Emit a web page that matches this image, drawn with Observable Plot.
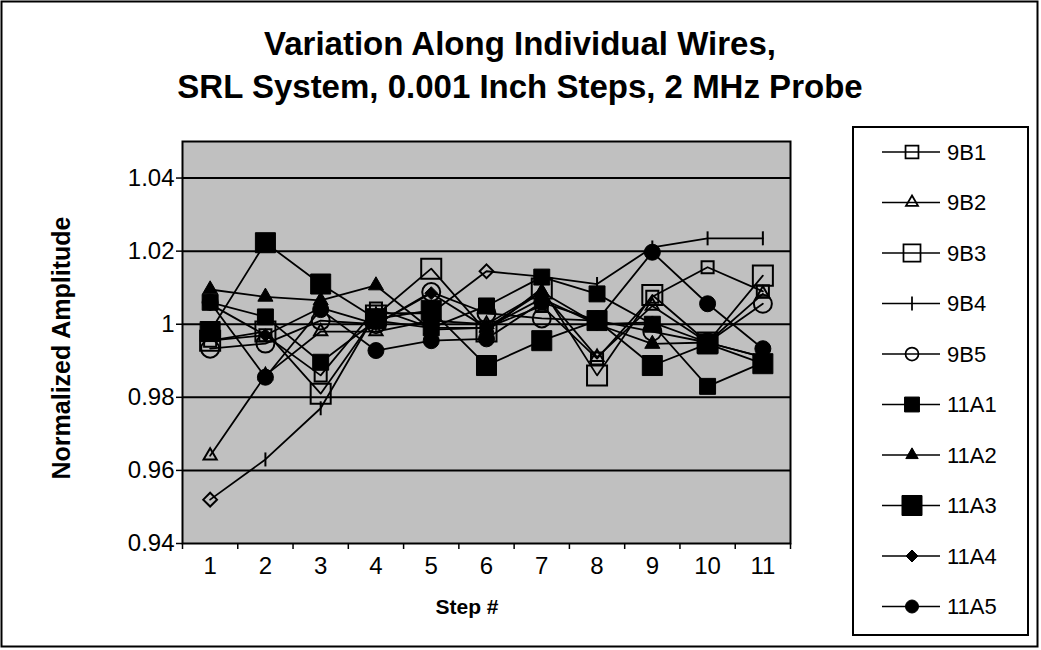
<!DOCTYPE html>
<html><head><meta charset="utf-8">
<script src="https://cdn.jsdelivr.net/npm/d3@7"></script>
<script src="https://cdn.jsdelivr.net/npm/@observablehq/plot@0.6"></script>
<style>body{margin:0;background:#fff;} svg{display:block;}</style>
</head><body><div id="chart"></div>
<script>
const steps = [1,2,3,4,5,6,7,8,9,10,11];
const seriesNames = ["9B1","9B2","9B3","9B4","9B5","11A1","11A2","11A3","11A4","11A5"];
const v9B1  = [0.9955, 0.997, 0.986, 1.0043, 0.999, 0.999, 1.005, 0.9906, 1.0075, 1.0156, 1.009];
const v9B2  = [0.964, 0.986, 0.998, 0.998, 1.001, 1.000, 1.0088, 0.991, 1.005, 0.995, 1.0083];
const v9B3  = [0.9955, 0.998, 0.981, 1.0024, 1.0152, 0.998, 1.0098, 0.986, 1.008, 0.995, 1.0133];
const v9B4  = [0.952, 0.963, 0.977, 1.003, 1.003, 1.0145, 1.013, 1.011, 1.021, 1.0235, 1.0235];
const v9B5  = [0.9933, 0.9947, 1.001, 1.000, 1.0088, 1.003, 1.0016, 1.001, 0.998, 0.995, 1.0056];
const v11A1 = [1.006, 1.002, 0.9896, 1.001, 0.999, 1.005, 1.0129, 1.0083, 1.000, 0.983, 0.9895];
const v11A2 = [1.0095, 1.0075, 1.0065, 1.0106, 0.9985, 0.999, 1.0088, 1.000, 0.9946, 0.995, 0.991];
const v11A3 = [0.998, 1.0223, 1.011, 1.0015, 1.0038, 0.9887, 0.9955, 1.001, 0.9887, 0.9946, 0.9892];
const v11A4 = [1.0055, 0.997, 1.0045, 1.000, 1.0085, 0.999, 1.007, 1.000, 1.0005, 0.995, 0.991];
const v11A5 = [1.006, 0.9855, 1.004, 0.9928, 0.9955, 0.996, 1.006, 1.001, 1.0197, 1.0056, 0.9933];
const seriesValues = [v9B1, v9B2, v9B3, v9B4, v9B5, v11A1, v11A2, v11A3, v11A4, v11A5];
const b4DiamondSteps = [1, 6];
const yTicks = [0.94, 0.96, 0.98, 1, 1.02, 1.04];
const yTickLabels = ["0.94", "0.96", "0.98", "1", "1.02", "1.04"];
const titleLines = ["Variation Along Individual Wires,", "SRL System, 0.001 Inch Steps, 2 MHz Probe"];
const xTitle = "Step #";
const yTitle = "Normalized Amplitude";

const FONT = "'Liberation Sans', Arial, sans-serif";
const tickSym = { draw(ctx) { ctx.moveTo(0, -7); ctx.lineTo(0, 7); } };
const symbolMap = { square: d3.symbolSquare, triangle: d3.symbolTriangle, circle: d3.symbolCircle, diamond2: d3.symbolDiamond2 };
const styles = {
  "9B1":  { symbol: "square",   fill: "none",  r: 6.8,  lr: 7.3 },
  "9B2":  { symbol: "triangle", fill: "none",  r: 4.9,  lr: 4.5 },
  "9B3":  { symbol: "square",   fill: "none",  r: 11.3, lr: 9.6 },
  "9B4":  { symbol: tickSym,    fill: "none",  r: 7,    lr: 7 },
  "9B5":  { symbol: "circle",   fill: "none",  r: 9,    lr: 6.5 },
  "11A1": { symbol: "square",   fill: "black", r: 9,    lr: 8.4 },
  "11A2": { symbol: "triangle", fill: "black", r: 5.6,  lr: 4.6 },
  "11A3": { symbol: "square",   fill: "black", r: 11.3, lr: 11.3 },
  "11A4": { symbol: "diamond2", fill: "black", r: 5.8,  lr: 5.4 },
  "11A5": { symbol: "circle",   fill: "black", r: 8,    lr: 6.5 }
};

const table = seriesNames.flatMap((s, i) => steps.map((x, j) => ({ series: s, step: x, value: seriesValues[i][j] })));

const marks = [Plot.frame({ fill: "#C0C0C0", stroke: null }),
  Plot.ruleY(yTicks.filter(d => d > 0.94), { stroke: "black", strokeWidth: 2 })];
for (const s of seriesNames) {
  const st = styles[s];
  const rows = table.filter(d => d.series === s);
  marks.push(Plot.line(rows, { x: "step", y: "value", stroke: "black", strokeWidth: 1.8 }));
  const dotRows = s === "9B4" ? rows.filter(d => !b4DiamondSteps.includes(d.step)) : rows;
  marks.push(Plot.dot(dotRows, { x: "step", y: "value", symbol: () => st.symbol, r: st.r,
    fill: st.fill, stroke: "black", strokeWidth: st.fill === "none" ? 2 : 1 }));
  if (s === "9B4") {
    marks.push(Plot.dot(rows.filter(d => b4DiamondSteps.includes(d.step)), { x: "step", y: "value",
      symbol: "diamond2", r: 6.2, fill: "none", stroke: "black", strokeWidth: 2 }));
  }
}
marks.push(Plot.frame({ stroke: "black", strokeWidth: 2 }));
marks.push(Plot.axisY({ ticks: yTicks, tickFormat: d => yTickLabels[yTicks.indexOf(d)], tickSize: 6, tickPadding: 2, fontSize: 24, label: null, strokeWidth: 1.5 }));
marks.push(Plot.axisX({ ticks: d3.range(0.5, 12, 1), tickFormat: () => "", tickSize: 6, label: null, strokeWidth: 1.5 }));
marks.push(Plot.axisX({ ticks: steps, tickSize: 0, tickPadding: 13, fontSize: 24, label: null }));

const svgEl = Plot.plot({
  width: 1041, height: 650,
  marginLeft: 182, marginRight: 251, marginTop: 141, marginBottom: 107,
  x: { type: "linear", domain: [0.5, 11.5] },
  y: { domain: [0.94, 1.05] },
  style: { fontFamily: FONT, background: "white", color: "black" },
  marks
});
document.getElementById("chart").append(svgEl);

const svg = d3.select(svgEl);
svg.append("rect").attr("x", 1.5).attr("y", 1.5).attr("width", 1036).attr("height", 645)
  .attr("fill", "none").attr("stroke", "black").attr("stroke-width", 2);
const tg = svg.append("g").attr("font-family", FONT).attr("font-weight", "bold").attr("text-anchor", "middle").attr("fill", "black");
tg.append("text").attr("x", 520).attr("y", 55).attr("font-size", 33).text(titleLines[0]);
tg.append("text").attr("x", 520).attr("y", 98).attr("font-size", 33).text(titleLines[1]);
tg.append("text").attr("x", 467).attr("y", 614).attr("font-size", 21).text(xTitle);
tg.append("text").attr("transform", "translate(70,348) rotate(-90)").attr("font-size", 25).text(yTitle);

const lg = svg.append("g").attr("font-family", FONT).attr("text-anchor", "start");
lg.append("rect").attr("x", 853).attr("y", 127).attr("width", 175).attr("height", 508)
  .attr("fill", "white").attr("stroke", "black").attr("stroke-width", 2);
seriesNames.forEach((s, i) => {
  const y = 152 + i * 50.5;
  const st = styles[s];
  lg.append("line").attr("x1", 882).attr("x2", 940).attr("y1", y).attr("y2", y).attr("stroke", "black").attr("stroke-width", 1.5);
  const sym = typeof st.symbol === "string" ? symbolMap[st.symbol] : st.symbol;
  lg.append("path").attr("transform", `translate(912,${y})`).attr("d", d3.symbol(sym, Math.PI * st.lr * st.lr)())
    .attr("fill", st.fill).attr("stroke", "black").attr("stroke-width", st.fill === "none" ? 1.75 : 1);
  lg.append("text").attr("x", 947).attr("y", y).attr("dy", "0.35em").attr("font-size", 22).attr("fill", "black").text(s);
});
</script></body></html>
